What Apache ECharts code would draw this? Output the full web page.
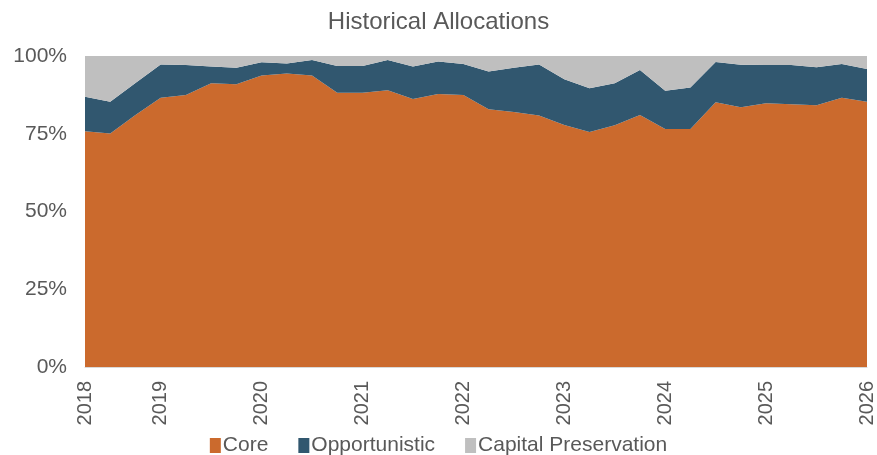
<!DOCTYPE html>
<html>
<head>
<meta charset="utf-8">
<script src="https://cdn.jsdelivr.net/npm/echarts@6/dist/echarts.min.js"></script>
<style>
html,body{margin:0;padding:0;background:#fff;}
#chart{width:877px;height:455px;}
</style>
</head>
<body>
<div id="chart"></div>
<script>
var categories = [
  '2018-06-30','2018-09-30','2018-12-31',
  '2019-03-31','2019-06-30','2019-09-30','2019-12-31',
  '2020-03-31','2020-06-30','2020-09-30','2020-12-31',
  '2021-03-31','2021-06-30','2021-09-30','2021-12-31',
  '2022-03-31','2022-06-30','2022-09-30','2022-12-31',
  '2023-03-31','2023-06-30','2023-09-30','2023-12-31',
  '2024-03-31','2024-06-30','2024-09-30','2024-12-31',
  '2025-03-31','2025-06-30','2025-09-30','2025-12-31',
  '2026-03-31'
];
var core = [75.8,75.1,81.0,86.6,87.5,91.2,90.9,93.7,94.4,93.7,88.2,88.2,89.0,86.2,87.8,87.5,
            82.9,82.0,80.9,77.8,75.6,77.7,81.0,76.5,76.5,85.1,83.5,84.8,84.5,84.2,86.6,85.3];
var opportunistic = [11.1,10.2,10.3,10.7,9.6,5.4,5.3,4.3,3.2,5.0,8.6,8.6,9.7,10.4,10.4,9.9,
            12.1,14.2,16.4,14.7,14.0,13.5,14.5,12.3,13.4,13.0,13.7,12.3,12.6,12.2,10.8,10.5];
var capitalPreservation = [13.1,14.7,8.7,2.7,2.9,3.4,3.8,2.0,2.4,1.3,3.2,3.2,1.3,3.4,1.8,2.6,
            5.0,3.8,2.7,7.5,10.4,8.8,4.5,11.2,10.1,1.9,2.8,2.9,2.9,3.6,2.6,4.2];
var yTicks = [0,25,50,75,100];
var seriesNames = ['Core','Opportunistic','Capital Preservation'];
var colors = ['#CB6A2D','#31576F','#BFBFBF'];

var chart = echarts.init(document.getElementById('chart'));
var font = 'Liberation Sans, Arial, sans-serif';
function mk(name, data, color){
  return {
    name: name, type: 'line', stack: 'total', data: data,
    showSymbol: false, symbol: 'none',
    lineStyle: {width: 0},
    areaStyle: {color: color, opacity: 1},
    itemStyle: {color: color},
    emphasis: {disabled: true}
  };
}
chart.setOption({
  animation: false,
  title: {
    text: 'Historical Allocations', left: 'center', top: 5,
    textStyle: {color: '#595959', fontSize: 24, fontWeight: 'normal', fontFamily: font}
  },
  legend: {
    bottom: -6, left: 'center', itemGap: 30, itemWidth: 11, itemHeight: 15,
    icon: 'rect',
    textStyle: {color: '#595959', fontSize: 21, fontFamily: font, padding: [0,0,0,-3]},
    data: seriesNames
  },
  grid: {left: 85, right: 9, top: 56, bottom: 88, containLabel: false},
  xAxis: {
    type: 'category', data: categories, boundaryGap: false,
    axisLine: {show: true, lineStyle: {color: '#D9D9D9'}},
    axisTick: {show: false},
    splitLine: {show: false},
    axisLabel: {
      rotate: 90, color: '#595959', fontSize: 20, fontFamily: font, margin: 14,
      interval: function(i, v){ return i === 0 || v.slice(5,7) === '03'; },
      formatter: function(v){ return v.slice(0,4); }
    }
  },
  yAxis: {
    type: 'value', min: yTicks[0], max: yTicks[yTicks.length-1], interval: 25,
    axisLine: {show: false}, axisTick: {show: false},
    splitLine: {show: false},
    axisLabel: {color: '#595959', fontSize: 21, fontFamily: font, margin: 18, formatter: '{value}%'}
  },
  series: [
    mk(seriesNames[0], core, colors[0]),
    mk(seriesNames[1], opportunistic, colors[1]),
    mk(seriesNames[2], capitalPreservation, colors[2])
  ]
});
</script>
</body>
</html>
